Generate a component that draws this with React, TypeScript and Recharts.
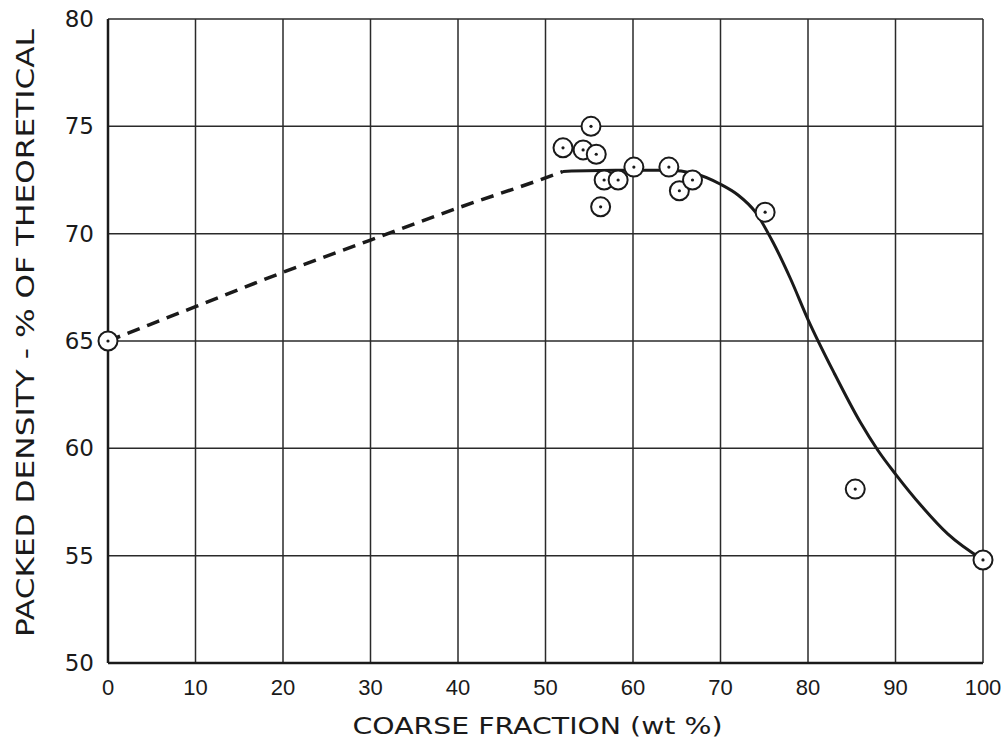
import React from 'react';
import { ComposedChart, Line, Scatter, XAxis, YAxis, CartesianGrid, Label } from 'recharts';

// measured points (circles)
const pointX = [0, 52.0, 55.2, 54.3, 55.8, 56.7, 58.3, 56.3, 60.1, 64.1, 65.3, 66.8, 75.1, 85.4, 100];
const pointY = [65.0, 74.0, 75.0, 73.9, 73.7, 72.5, 72.5, 71.25, 73.1, 73.1, 72.0, 72.5, 71.0, 58.1, 54.8];

// dashed extrapolated part of the curve
const dashX = [0, 10, 20, 30, 40, 50, 52];
const dashY = [65.0, 66.6, 68.2, 69.7, 71.2, 72.6, 72.9];

// solid fitted curve
const curveX = [52, 58, 64, 67, 70, 72, 74, 76, 78, 80, 83, 86, 88, 90, 93, 96, 100];
const curveY = [72.9, 72.95, 72.95, 72.8, 72.3, 71.8, 71.0, 69.6, 67.9, 66.0, 63.5, 61.2, 59.9, 58.8, 57.3, 56.0, 54.8];

const xTicks = [0, 10, 20, 30, 40, 50, 60, 70, 80, 90, 100];
const yTicks = [50, 55, 60, 65, 70, 75, 80];

const xTitle = 'COARSE FRACTION (wt %)';
const yTitle = 'PACKED DENSITY - % OF THEORETICAL';

const zip = (xs: number[], ys: number[]) => xs.map((x, i) => ({ x, y: ys[i] }));

const points = zip(pointX, pointY);
const dashed = zip(dashX, dashY);
const curve = zip(curveX, curveY);

const ink = '#1a1a1a';
const font = '"DejaVu Sans", Arial, sans-serif';
const narrow = '"Liberation Sans", Arial, sans-serif';

const Ring = (props: any) => {
  const { cx, cy } = props;
  if (cx == null || cy == null) return null;
  return (
    <g>
      <circle cx={cx} cy={cy} r={9.5} fill="#fff" stroke={ink} strokeWidth={2} />
      <circle cx={cx} cy={cy} r={1.6} fill={ink} />
    </g>
  );
};

const YTitle = (props: any) => {
  const vb = props.viewBox || { x: 48, y: 19, width: 60, height: 644 };
  const cx = vb.x - 23;
  const cy = vb.y + vb.height / 2 - 8;
  return (
    <text
      x={cx}
      y={cy}
      transform={`rotate(-90, ${cx}, ${cy})`}
      textAnchor="middle"
      dominantBaseline="central"
      fontFamily={font}
      fontSize={25}
      fill={ink}
      textLength={608}
      lengthAdjust="spacingAndGlyphs"
    >
      {yTitle}
    </text>
  );
};

const XTitle = (props: any) => {
  const vb = props.viewBox || { x: 108, y: 663, width: 875, height: 45 };
  const cx = vb.x + vb.width / 2 - 8;
  const y = vb.y + 71;
  return (
    <text
      x={cx}
      y={y}
      textAnchor="middle"
      fontFamily={font}
      fontSize={23}
      fill={ink}
      textLength={370}
      lengthAdjust="spacingAndGlyphs"
    >
      {xTitle}
    </text>
  );
};

export default function App() {
  return (
    <div style={{ position: 'absolute', left: 0, top: 0, background: '#fff' }}>
      <ComposedChart
        width={1001}
        height={740}
        margin={{ top: 19, right: 18, left: 48, bottom: 32 }}
      >
        <CartesianGrid stroke="#2a2a2a" strokeWidth={1.5} />
        <XAxis
          dataKey="x"
          type="number"
          domain={[0, 100]}
          ticks={xTicks}
          interval={0}
          height={45}
          tickLine={false}
          tickSize={0}
          tickMargin={16}
          axisLine={{ stroke: ink, strokeWidth: 2.5 }}
          tick={{ fill: ink, fontSize: 22, fontFamily: narrow }}
        >
          <Label content={<XTitle />} />
        </XAxis>
        <YAxis
          dataKey="y"
          type="number"
          domain={[50, 80]}
          ticks={yTicks}
          interval={0}
          width={60}
          tickLine={false}
          tickSize={0}
          tickMargin={14}
          axisLine={{ stroke: ink, strokeWidth: 2.5 }}
          tick={{ fill: ink, fontSize: 23, fontFamily: font }}
        >
          <Label content={<YTitle />} />
        </YAxis>
        <Line
          data={dashed}
          dataKey="y"
          type="monotone"
          stroke={ink}
          strokeWidth={3.5}
          strokeDasharray="13 8"
          dot={false}
          activeDot={false}
          isAnimationActive={false}
        />
        <Line
          data={curve}
          dataKey="y"
          type="monotone"
          stroke={ink}
          strokeWidth={3}
          dot={false}
          activeDot={false}
          isAnimationActive={false}
        />
        <Scatter data={points} dataKey="y" shape={<Ring />} isAnimationActive={false} />
      </ComposedChart>
    </div>
  );
}
